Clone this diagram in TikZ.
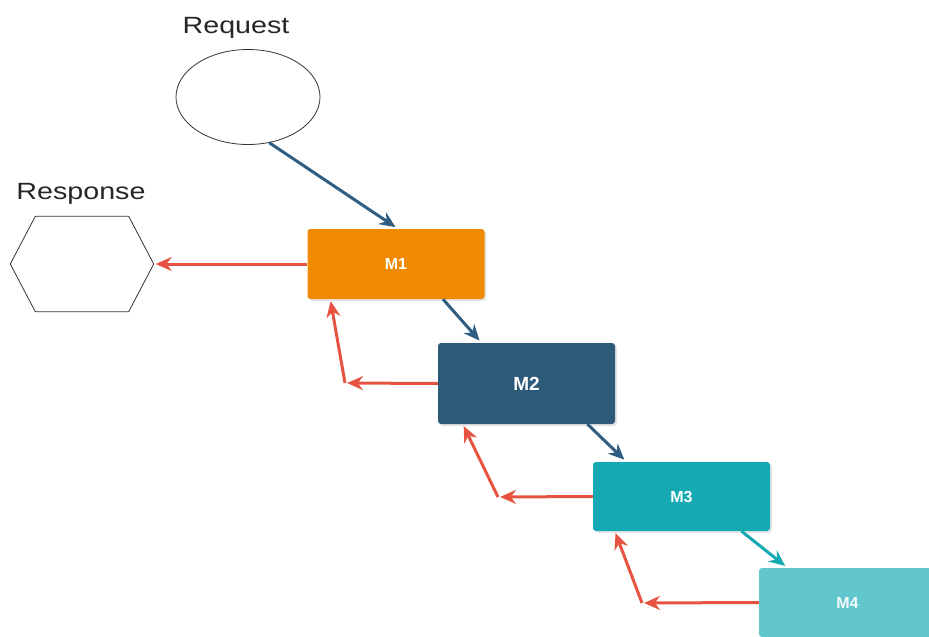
\documentclass[tikz,border=0pt]{standalone}
\usepackage{fontspec}
\setmainfont{Liberation Sans}
\newfontfamily\widesans[FakeStretch=1.22]{Liberation Sans}
\usetikzlibrary{arrows.meta,shapes.geometric,shadows}
\definecolor{morange}{RGB}{240,138,0}
\definecolor{mdblue}{RGB}{46,90,122}
\definecolor{mteal}{RGB}{20,169,179}
\definecolor{mlteal}{RGB}{97,198,206}
\definecolor{cred}{RGB}{230,84,65}
\definecolor{cblue}{RGB}{48,94,130}

\begin{document}
\begin{tikzpicture}[x=1pt,y=-1pt,
	>={Stealth[length=16pt,width=14pt]},
	mbox/.style={rectangle, rounded corners=3pt, minimum width=177pt, inner sep=0pt, text=white, font=\fontsize{16}{18}\selectfont\bfseries, drop shadow={shadow xshift=2pt, shadow yshift=-2pt, opacity=0.2}},
	call/.style={->, line width=3pt, shorten >=3pt, draw=cblue},
	back/.style={->, line width=3pt, shorten >=2pt, draw=cred},
	outline/.style={draw=black!80, line width=0.8pt},
	caption/.style={font=\widesans\fontsize{23.5}{28}\selectfont, text=black!85}]
		\clip (0,0) rectangle (929,637);

		\node[caption] (reqtext) at (236,28) {Request};
		\node[ellipse, outline, minimum width=144pt, minimum height=95pt, inner sep=0pt] (req) at (248,97) {};

		\node[caption] (resptext) at (81,194) {Response};
		\node[minimum width=143pt, minimum height=95pt, inner sep=0pt] (resp) at (82,264) {};
		\draw[outline] (resp.west) -- ([xshift=25pt]resp.north west) -- ([xshift=-25pt]resp.north east) -- (resp.east) -- ([xshift=-25pt]resp.south east) -- ([xshift=25pt]resp.south west) -- cycle;

		\node[mbox, fill=morange, minimum height=70pt] (m1) at (396,264) {M1};
		\node[mbox, fill=mdblue, minimum height=81pt, font=\fontsize{19}{22}\selectfont\bfseries] (m2) at (526.5,383.5) {M2};
		\node[mbox, fill=mteal, minimum height=69pt] (m3) at (681.5,496.5) {M3};
		\node[mbox, fill=mlteal, minimum height=69pt, text=white!92!mlteal] (m4) at (847.5,602.5) {M4};

		\coordinate (r2) at (345,383);
		\coordinate (r3) at (498,497);
		\coordinate (r4) at (642,603);

		\draw[call] (req.-65) -- ([xshift=2pt]m1.north);
		\draw[call] ([xshift=47pt]m1.south) -- ([xshift=-45pt]m2.north);
		\draw[call] ([xshift=61pt]m2.south) -- ([xshift=-55pt]m3.north);
		\draw[call, draw=mteal] ([xshift=60pt]m3.south) -- ([xshift=-60pt]m4.north);

		\draw[back] (m1.west) -- (resp.east);
		\draw[back] (m2.west) -- (r2);
		\draw[back] (r2) -- ([xshift=23pt]m1.south west);
		\draw[back] (m3.west) -- (r3);
		\draw[back] (r3) -- ([xshift=25pt]m2.south west);
		\draw[back] (m4.west) -- (r4);
		\draw[back] (r4) -- ([xshift=22pt]m3.south west);
	\end{tikzpicture}
\end{document}
